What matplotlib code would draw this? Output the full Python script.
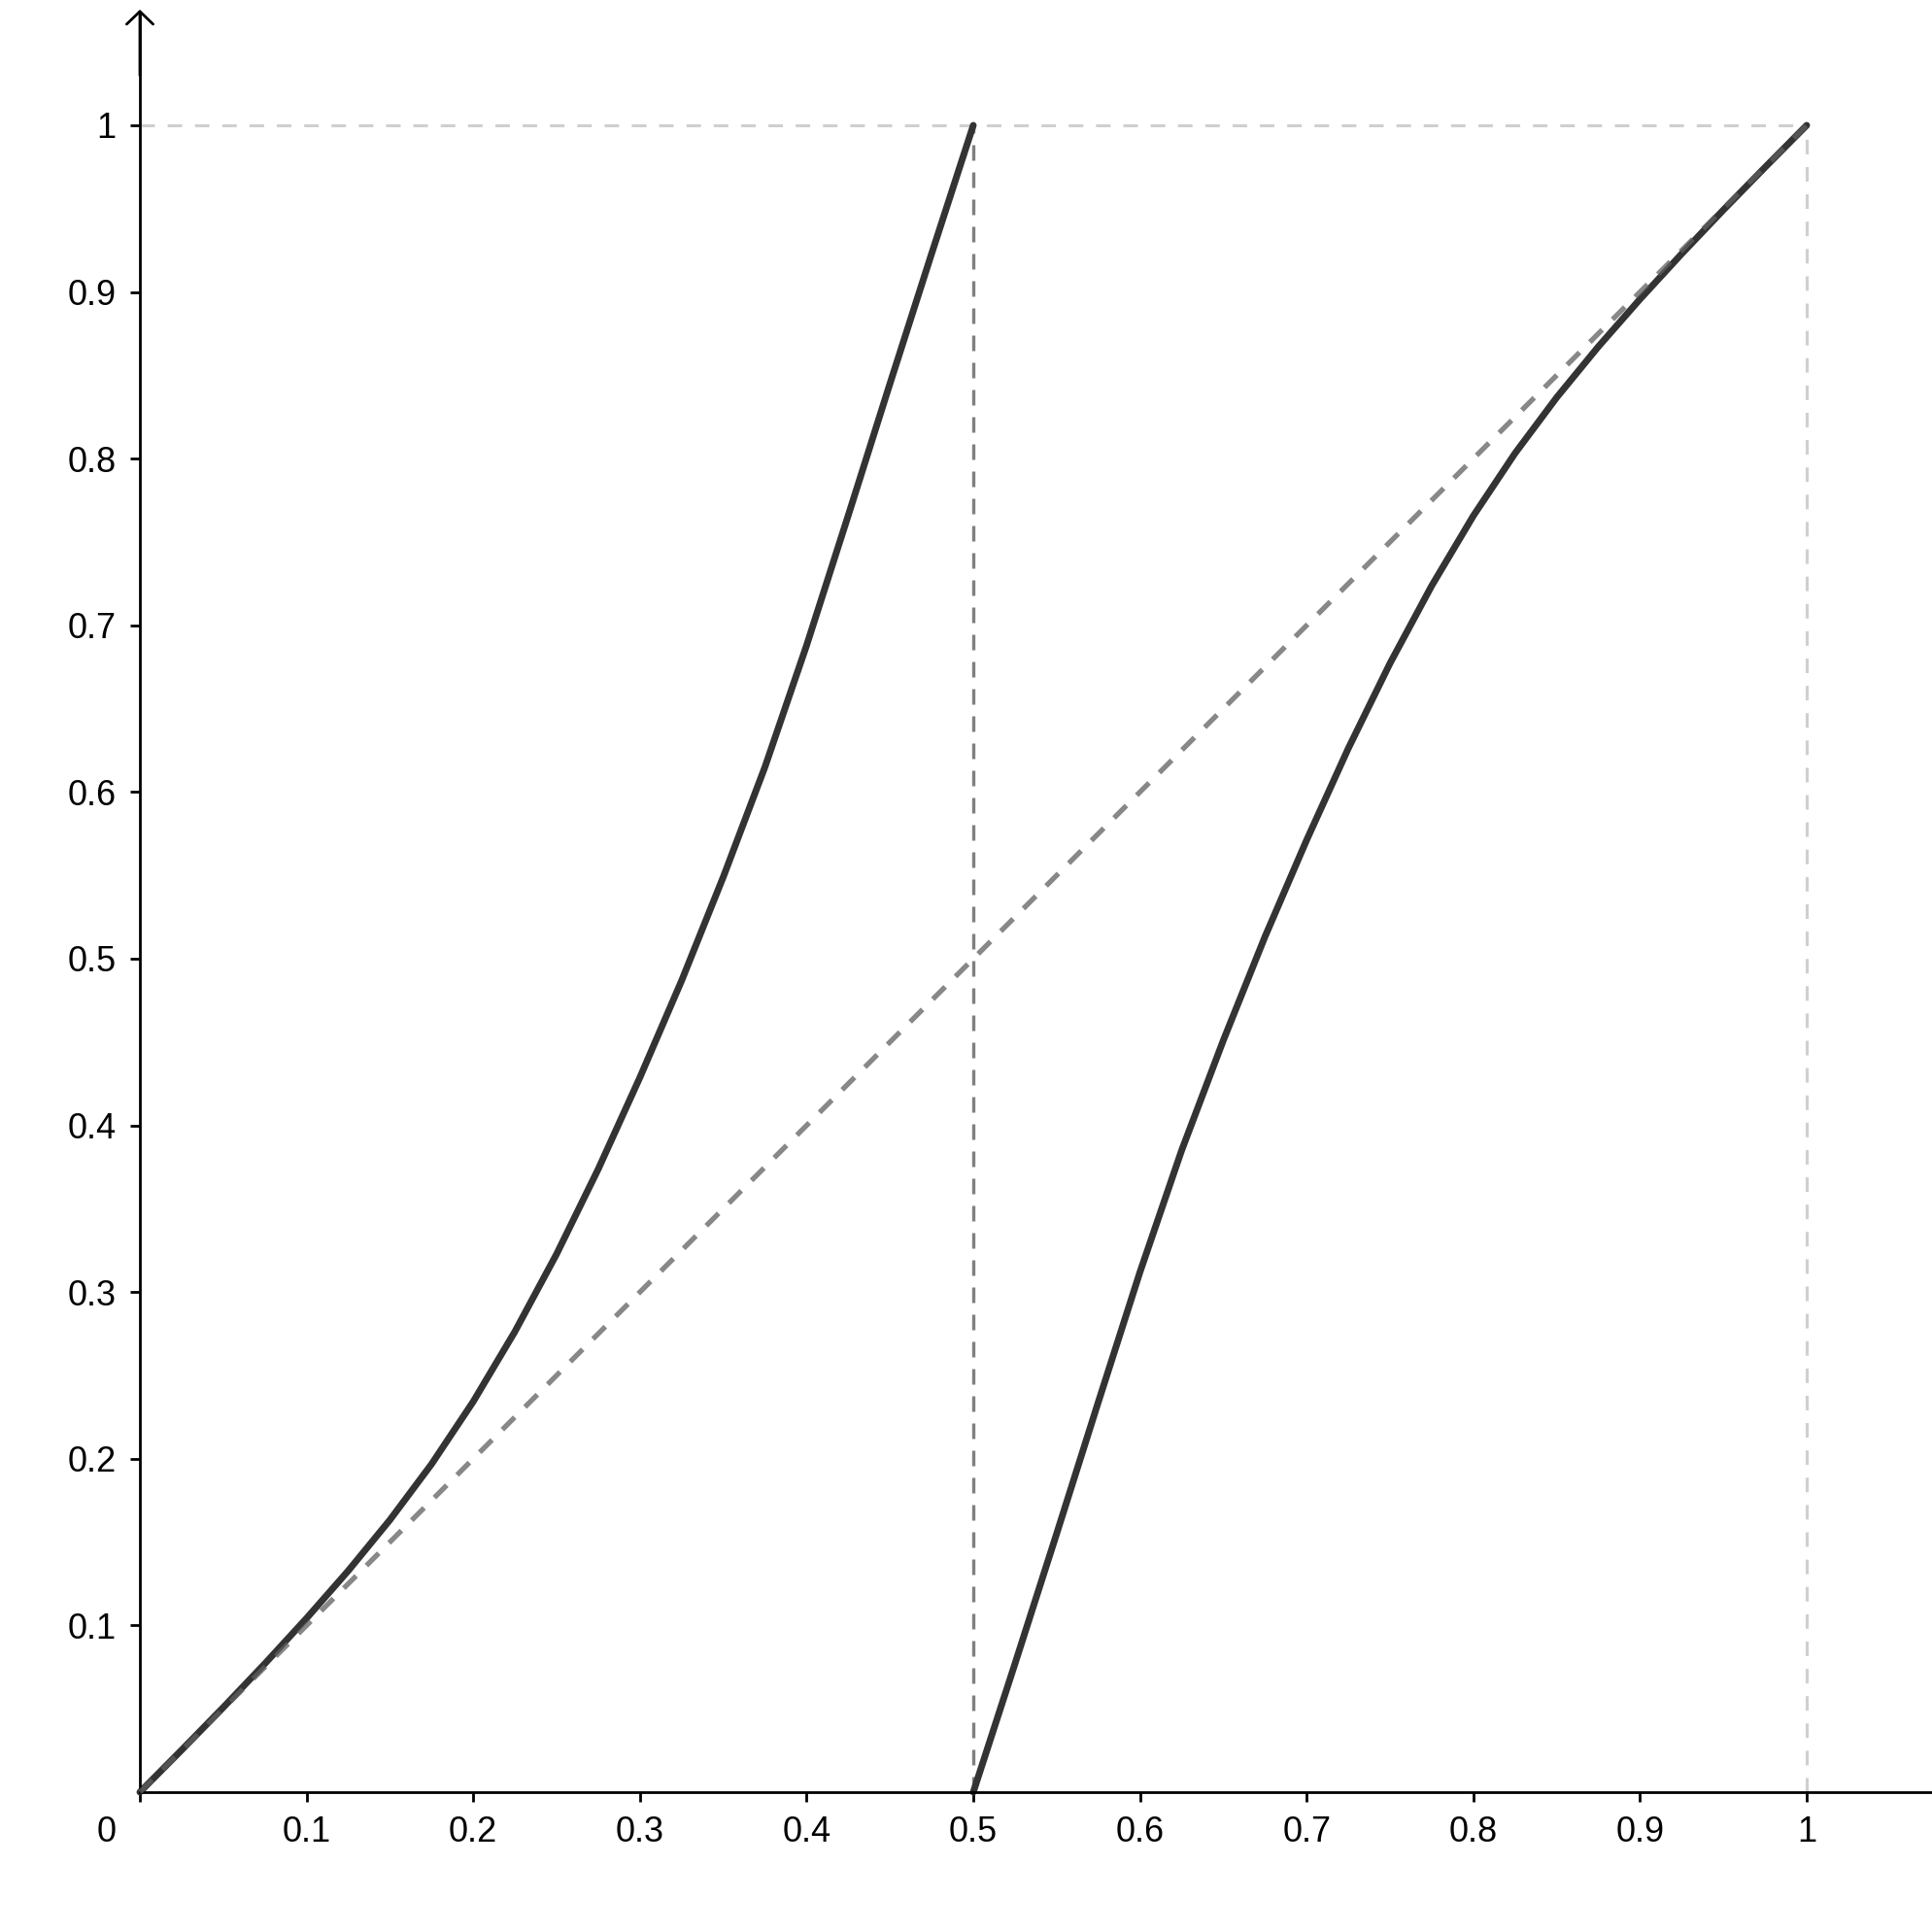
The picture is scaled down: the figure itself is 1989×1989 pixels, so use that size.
import matplotlib
matplotlib.use("Agg")
import matplotlib.pyplot as plt

plt.rcParams['font.family'] = ['Liberation Sans', 'DejaVu Sans']

# ---- data ----
left_x = [0.000, 0.025, 0.050, 0.075, 0.100, 0.125, 0.150, 0.175, 0.200, 0.225,
          0.250, 0.275, 0.300, 0.325, 0.350, 0.375, 0.400, 0.425, 0.450, 0.475, 0.500]
left_y = [0.0, 0.0252, 0.0508, 0.0771, 0.1043, 0.1328, 0.1633, 0.1968, 0.2343, 0.2763,
          0.3228, 0.3738, 0.4288, 0.4868, 0.549, 0.615, 0.688, 0.766, 0.845, 0.923, 1.000]

right_x = [0.500, 0.525, 0.550, 0.575, 0.600, 0.625, 0.650, 0.675, 0.700, 0.725,
           0.750, 0.775, 0.800, 0.825, 0.850, 0.875, 0.900, 0.925, 0.950, 0.975, 1.000]
right_y = [0.0, 0.077, 0.155, 0.234, 0.312, 0.385, 0.451, 0.5132, 0.5712, 0.6262,
           0.6772, 0.7237, 0.7657, 0.8032, 0.8367, 0.8672, 0.8957, 0.9229, 0.9492, 0.9748, 1.000]

diag_x = [0.0, 1.0]
diag_y = [0.0, 1.0]
mid_x = [0.5, 0.5]
mid_y = [0.0, 1.0]
top_x = [0.0, 1.0]
top_y = [1.0, 1.0]
side_x = [1.0, 1.0]
side_y = [0.0, 1.0]

x_ticks = [0.0, 0.1, 0.2, 0.3, 0.4, 0.5, 0.6, 0.7, 0.8, 0.9, 1.0]
x_labels = ['', '0.1', '0.2', '0.3', '0.4', '0.5', '0.6', '0.7', '0.8', '0.9', '1']
y_ticks = [0.1, 0.2, 0.3, 0.4, 0.5, 0.6, 0.7, 0.8, 0.9, 1.0]
y_labels = ['0.1', '0.2', '0.3', '0.4', '0.5', '0.6', '0.7', '0.8', '0.9', '1']

# ---- figure ----
fig = plt.figure(figsize=(19.90, 19.89), dpi=100)
ax = fig.add_axes([0, 0, 1, 1])
ax.set_xlim(-0.08392, 1.07576)
ax.set_ylim(-0.08392, 1.07517)

for s in ['top', 'right']:
    ax.spines[s].set_visible(False)
ax.spines['left'].set_position(('data', 0))
ax.spines['bottom'].set_position(('data', 0))
ax.spines['left'].set_bounds(0, 1.066)
ax.spines['bottom'].set_bounds(0, 1.08)
for s in ['left', 'bottom']:
    ax.spines[s].set_linewidth(2)
    ax.spines[s].set_color('black')

ax.set_xticks(x_ticks)
ax.set_xticklabels(x_labels)
ax.set_yticks(y_ticks)
ax.set_yticklabels(y_labels)
ax.tick_params(axis='both', direction='out', length=7, width=2, labelsize=26, color='black')
ax.tick_params(axis='x', pad=10.5)
ax.tick_params(axis='y', pad=10.5)

# origin label
ax.text(-0.020, -0.024, '0', ha='center', va='center', fontsize=26)

# y-axis arrow head
ax.annotate('', xy=(0, 1.0694), xytext=(0, 1.03),
            arrowprops=dict(arrowstyle='->,head_length=0.47,head_width=0.49',
                            mutation_scale=20, lw=2, color='black',
                            shrinkA=0, shrinkB=0))

# light gray guide lines
ax.plot(top_x, top_y, color='#cfcfcf', lw=2.2, dashes=(4.9, 4.3), zorder=1)
ax.plot(side_x, side_y, color='#cfcfcf', lw=2.2, dashes=(4.9, 4.3), zorder=1)

# vertical dashed at x=0.5
ax.plot(mid_x, mid_y, color='#808080', lw=2.4, dashes=(4.8, 3.6), zorder=1.5)

# curves
ax.plot(left_x, left_y, color='#333333', lw=5, solid_capstyle='round', solid_joinstyle='round', zorder=2)
ax.plot(right_x, right_y, color='#333333', lw=5, solid_capstyle='round', solid_joinstyle='round', zorder=2)

# diagonal
ax.plot(diag_x, diag_y, color='#606060', alpha=0.75, lw=3.8, dashes=(3.4, 2.85), zorder=3)

fig.savefig('out.png', dpi=100, facecolor='white')
